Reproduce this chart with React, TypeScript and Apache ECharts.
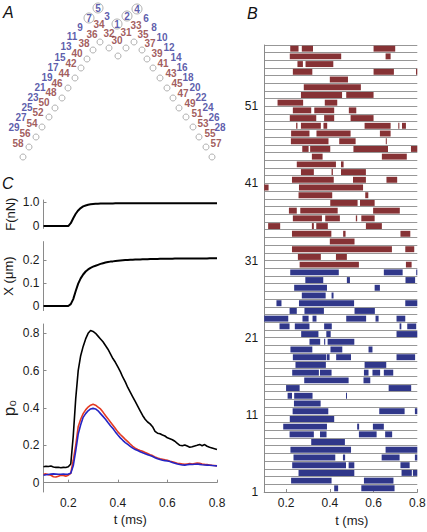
import React, { useEffect, useRef } from "react";
import * as echarts from "echarts";

// ---------- Panel A: schematic of the hair bundle (diagram units) ----------
const BLUE_NUMS: [number, number, number][] = [
  [1, 117, 24], [2, 127, 16], [3, 107, 16], [4, 137, 9], [5, 98, 8], [6, 146, 18], [7, 89, 18],
  [8, 154, 27], [9, 80, 27], [10, 162, 37], [11, 72, 36], [12, 169, 47], [13, 66, 46],
  [14, 176, 57], [15, 60, 57], [16, 182, 67], [17, 53, 67], [18, 188, 77], [19, 47, 77],
  [20, 195, 87], [21, 40, 87], [22, 201, 97], [23, 33, 97], [24, 208, 107], [25, 27, 107],
  [26, 214, 117], [27, 21, 117], [28, 220, 127], [29, 14, 127],
];
const RED_NUMS: [number, number, number][] = [
  [30, 117, 40], [31, 126, 32], [32, 109, 33], [33, 136, 25], [34, 99, 24], [35, 143, 34],
  [36, 92, 34], [37, 150, 43], [38, 84, 43], [39, 157, 53], [40, 77, 53], [41, 163, 63],
  [42, 71, 63], [43, 171, 73], [44, 64, 73], [45, 177, 83], [46, 57, 83], [47, 183, 93],
  [48, 51, 92], [49, 190, 103], [50, 44, 102], [51, 197, 113], [52, 38, 112], [53, 203, 123],
  [54, 32, 123], [55, 210, 133], [56, 25, 133], [57, 216, 143], [58, 18, 143],
];
const GRAY_TIPS: [number, number][] = [
  [100, 42], [109, 48], [118, 56], [126, 48], [134, 42], [93, 50], [87, 59], [81, 68],
  [75, 78], [68, 88], [62, 98], [55, 108], [49, 117], [42, 127], [36, 137], [29, 147],
  [23, 157], [142, 50], [147, 59], [153, 68], [160, 78], [167, 88], [173, 98], [179, 108],
  [186, 117], [193, 127], [199, 137], [206, 147], [212, 157],
];
const CIRCLED = [1, 2, 4, 5, 7];

// ---------- Panel C: time courses ----------
const T = [
  0.10, 0.11, 0.12, 0.13, 0.14, 0.15, 0.16, 0.17, 0.18, 0.19, 0.20,
  0.21, 0.22, 0.23, 0.24, 0.25, 0.26, 0.27, 0.28, 0.29, 0.30,
  0.31, 0.32, 0.33, 0.34, 0.35, 0.36, 0.37, 0.38, 0.39, 0.40,
  0.41, 0.42, 0.43, 0.44, 0.45, 0.46, 0.47, 0.48, 0.49, 0.50,
  0.51, 0.52, 0.53, 0.54, 0.55, 0.56, 0.57, 0.58, 0.59, 0.60,
  0.61, 0.62, 0.63, 0.64, 0.65, 0.66, 0.67, 0.68, 0.69, 0.70,
  0.71, 0.72, 0.73, 0.74, 0.75, 0.76, 0.77, 0.78, 0.79, 0.80,
];
const FORCE = [
  0, 0, 0, 0, 0, 0, 0, 0, 0, 0, 0,
  0.12, 0.33, 0.52, 0.66, 0.76, 0.83, 0.87, 0.9, 0.92, 0.93,
  0.94, 0.945, 0.95, 0.953, 0.955, 0.956, 0.957, 0.957, 0.958, 0.958,
  0.958, 0.959, 0.959, 0.959, 0.959, 0.96, 0.96, 0.96, 0.96, 0.96,
  0.96, 0.96, 0.96, 0.96, 0.96, 0.96, 0.96, 0.96, 0.96, 0.96,
  0.96, 0.96, 0.96, 0.96, 0.96, 0.96, 0.96, 0.96, 0.96, 0.96,
  0.96, 0.96, 0.96, 0.96, 0.96, 0.96, 0.96, 0.96, 0.96, 0.96,
];
const DISP = [
  0, 0, 0, 0, 0, 0, 0, 0, 0, 0, 0,
  0.008, 0.03, 0.065, 0.097, 0.12, 0.137, 0.15, 0.159, 0.166, 0.171,
  0.175, 0.179, 0.183, 0.186, 0.189, 0.191, 0.193, 0.194, 0.196, 0.197,
  0.198, 0.199, 0.2, 0.2, 0.201, 0.201, 0.202, 0.202, 0.202, 0.203,
  0.203, 0.203, 0.204, 0.204, 0.204, 0.204, 0.205, 0.205, 0.205, 0.205,
  0.205, 0.205, 0.206, 0.206, 0.206, 0.206, 0.206, 0.206, 0.206, 0.207,
  0.207, 0.207, 0.207, 0.207, 0.207, 0.207, 0.208, 0.208, 0.208, 0.208,
];
const P_ANY = [
  0.085, 0.088, 0.087, 0.089, 0.084, 0.082, 0.083, 0.08, 0.082, 0.081, 0.085,
  0.1, 0.25, 0.45, 0.6, 0.68, 0.73, 0.77, 0.8, 0.815, 0.81,
  0.8, 0.785, 0.77, 0.755, 0.735, 0.715, 0.69, 0.665, 0.645, 0.62,
  0.595, 0.565, 0.54, 0.51, 0.485, 0.46, 0.435, 0.41, 0.385, 0.36,
  0.34, 0.325, 0.315, 0.3, 0.275, 0.265, 0.262, 0.255, 0.25, 0.24,
  0.235, 0.23, 0.222, 0.21, 0.2, 0.198, 0.202, 0.196, 0.19, 0.192,
  0.196, 0.2, 0.205, 0.198, 0.204, 0.195, 0.19, 0.186, 0.182, 0.178,
];
const P_RED = [
  0.045, 0.047, 0.043, 0.04, 0.032, 0.03, 0.035, 0.04, 0.038, 0.035, 0.04,
  0.05, 0.12, 0.2, 0.3, 0.34, 0.37, 0.39, 0.405, 0.415, 0.42,
  0.415, 0.405, 0.395, 0.378, 0.36, 0.343, 0.325, 0.308, 0.29, 0.272,
  0.258, 0.245, 0.232, 0.22, 0.207, 0.195, 0.185, 0.178, 0.172, 0.168,
  0.162, 0.156, 0.15, 0.145, 0.138, 0.132, 0.128, 0.125, 0.122, 0.12,
  0.115, 0.112, 0.108, 0.104, 0.102, 0.1, 0.098, 0.1, 0.102, 0.1,
  0.103, 0.105, 0.104, 0.1, 0.098, 0.097, 0.095, 0.093, 0.092, 0.09,
];
const P_BLUE = [
  0.04, 0.042, 0.044, 0.046, 0.047, 0.046, 0.045, 0.045, 0.046, 0.045, 0.046,
  0.05, 0.09, 0.17, 0.26, 0.31, 0.35, 0.37, 0.385, 0.395, 0.398,
  0.395, 0.385, 0.37, 0.355, 0.34, 0.322, 0.305, 0.29, 0.272, 0.255,
  0.24, 0.227, 0.215, 0.205, 0.195, 0.185, 0.178, 0.172, 0.166, 0.16,
  0.155, 0.15, 0.145, 0.14, 0.134, 0.128, 0.124, 0.12, 0.118, 0.116,
  0.113, 0.108, 0.104, 0.1, 0.097, 0.095, 0.094, 0.096, 0.098, 0.097,
  0.099, 0.1, 0.098, 0.096, 0.095, 0.094, 0.093, 0.092, 0.091, 0.09,
];

// ---------- Panel B: open intervals [start, end, channel] ----------
const RED_EVENTS: [number, number, number][] = [
  [0.219, 0.257, 58], [0.272, 0.323, 58], [0.6, 0.699, 58],
  [0.217, 0.452, 57], [0.655, 0.678, 57],
  [0.252, 0.277, 56], [0.289, 0.416, 56],
  [0.231, 0.32, 55], [0.6, 0.693, 55], [0.794, 0.8, 55],
  [0.4, 0.483, 54],
  [0.281, 0.542, 53],
  [0.268, 0.456, 52], [0.475, 0.6, 52],
  [0.161, 0.278, 51], [0.377, 0.434, 51],
  [0.231, 0.315, 50], [0.329, 0.42, 50], [0.487, 0.521, 50],
  [0.217, 0.338, 49], [0.374, 0.42, 49], [0.495, 0.6, 49],
  [0.246, 0.252, 48], [0.268, 0.359, 48], [0.371, 0.388, 48], [0.559, 0.678, 48], [0.713, 0.718, 48], [0.73, 0.748, 48],
  [0.223, 0.307, 47], [0.339, 0.495, 47], [0.629, 0.678, 47],
  [0.222, 0.394, 46], [0.443, 0.518, 46], [0.656, 0.66, 46],
  [0.274, 0.303, 45], [0.31, 0.402, 45], [0.508, 0.666, 45], [0.771, 0.8, 45],
  [0.318, 0.367, 44], [0.638, 0.752, 44],
  [0.249, 0.428, 43], [0.451, 0.463, 43],
  [0.268, 0.327, 42], [0.408, 0.414, 42], [0.451, 0.565, 42],
  [0.227, 0.418, 41], [0.506, 0.565, 41], [0.659, 0.708, 41],
  [0.1, 0.12, 40], [0.259, 0.552, 40],
  [0.257, 0.411, 39], [0.562, 0.576, 39],
  [0.402, 0.527, 38], [0.538, 0.605, 38],
  [0.213, 0.249, 37], [0.265, 0.436, 37], [0.598, 0.72, 37],
  [0.231, 0.364, 36], [0.379, 0.446, 36], [0.519, 0.525, 36], [0.544, 0.605, 36],
  [0.118, 0.173, 35], [0.318, 0.327, 35], [0.338, 0.391, 35], [0.565, 0.638, 35],
  [0.227, 0.407, 34], [0.461, 0.472, 34], [0.723, 0.768, 34],
  [0.4, 0.513, 33],
  [0.227, 0.684, 32], [0.745, 0.786, 32],
  [0.254, 0.359, 31], [0.428, 0.478, 31],
  [0.262, 0.533, 30], [0.748, 0.774, 30],
];
const BLUE_EVENTS: [number, number, number][] = [
  [0.219, 0.441, 29], [0.647, 0.733, 29], [0.795, 0.8, 29],
  [0.288, 0.37, 28], [0.478, 0.492, 28], [0.746, 0.79, 28],
  [0.237, 0.387, 27], [0.605, 0.629, 27],
  [0.272, 0.381, 26], [0.408, 0.417, 26],
  [0.156, 0.179, 25], [0.259, 0.511, 25], [0.745, 0.8, 25],
  [0.216, 0.249, 24], [0.284, 0.373, 24], [0.513, 0.606, 24],
  [0.1, 0.21, 23], [0.275, 0.303, 23], [0.321, 0.339, 23], [0.475, 0.566, 23], [0.609, 0.623, 23], [0.705, 0.745, 23],
  [0.17, 0.216, 22], [0.24, 0.307, 22], [0.374, 0.409, 22], [0.719, 0.727, 22], [0.754, 0.795, 22],
  [0.269, 0.348, 21], [0.384, 0.404, 21], [0.705, 0.8, 21],
  [0.307, 0.356, 20], [0.374, 0.379, 20], [0.39, 0.512, 20],
  [0.22, 0.32, 19], [0.403, 0.457, 19], [0.577, 0.595, 19],
  [0.231, 0.384, 18], [0.387, 0.399, 18], [0.429, 0.497, 18], [0.705, 0.79, 18],
  [0.243, 0.382, 17], [0.559, 0.658, 17],
  [0.228, 0.35, 16], [0.355, 0.408, 16], [0.556, 0.577, 16], [0.595, 0.63, 16], [0.647, 0.69, 16],
  [0.283, 0.486, 15], [0.554, 0.585, 15],
  [0.2, 0.262, 14], [0.669, 0.772, 14],
  [0.207, 0.227, 13], [0.237, 0.321, 13], [0.474, 0.478, 13],
  [0.236, 0.358, 12],
  [0.23, 0.393, 11], [0.626, 0.742, 11], [0.789, 0.8, 11],
  [0.217, 0.42, 10],
  [0.187, 0.387, 9], [0.525, 0.534, 9], [0.597, 0.647, 9],
  [0.216, 0.327, 8], [0.355, 0.385, 8], [0.533, 0.614, 8], [0.653, 0.685, 8],
  [0.315, 0.469, 7],
  [0.22, 0.497, 6], [0.655, 0.8, 6],
  [0.234, 0.425, 5], [0.46, 0.47, 5], [0.637, 0.719, 5], [0.789, 0.8, 5],
  [0.228, 0.474, 4], [0.486, 0.512, 4], [0.723, 0.765, 4],
  [0.257, 0.512, 3], [0.728, 0.775, 3], [0.78, 0.8, 3],
  [0.223, 0.408, 2], [0.556, 0.691, 2],
  [0.42, 0.438, 1], [0.544, 0.696, 1],
];
const ROW_TICKS = [1, 11, 21, 31, 41, 51];
const T_TICKS = [0.2, 0.4, 0.6, 0.8];

const FONT = "Liberation Sans, Arial, sans-serif";
const AXIS_GRAY = "#8a8a8a";
const TXT = "#1a1a1a";
const BAR_BLUE = "#30378a";
const BAR_RED = "#863235";

function fmt1(v: number) {
  return Math.abs(v) < 1e-9 ? "0" : v.toFixed(1);
}

export default function App() {
  const ref = useRef<HTMLDivElement>(null);
  useEffect(() => {
    if (!ref.current) return;
    const chart = echarts.init(ref.current, null, { renderer: "svg" });

    const hiddenX = (g: number) => ({ gridIndex: g, type: "value", min: 0.1, max: 0.8, show: false });
    const tAxis = (g: number, nameShift: number) => ({
      gridIndex: g,
      type: "value",
      min: 0.1,
      max: 0.8,
      axisLine: { show: true, lineStyle: { color: AXIS_GRAY, width: 1 } },
      axisTick: { show: true, inside: true, length: 3, customValues: T_TICKS, lineStyle: { color: AXIS_GRAY } },
      axisLabel: { customValues: T_TICKS, formatter: fmt1, color: TXT, fontSize: 12, fontFamily: FONT, margin: 5 },
      splitLine: { show: false },
      name: "t (ms)",
      nameLocation: "middle",
      nameGap: 21,
      nameTextStyle: { color: TXT, fontSize: 13, fontFamily: FONT, padding: [0, 0, 0, nameShift] },
    });
    const valAxis = (g: number, min: number, max: number, ticks: number[], name: any, gap: number, nameSize: number) => ({
      gridIndex: g,
      type: "value",
      min,
      max,
      axisLine: { show: true, lineStyle: { color: AXIS_GRAY, width: 1 } },
      axisTick: { show: true, inside: true, length: 3, customValues: ticks, lineStyle: { color: AXIS_GRAY } },
      axisLabel: { customValues: ticks, formatter: fmt1, color: TXT, fontSize: 12, fontFamily: FONT, margin: 4 },
      splitLine: { show: false },
      name,
      nameLocation: "middle",
      nameRotate: 90,
      nameGap: gap,
      nameTextStyle: { color: TXT, fontSize: nameSize, fontFamily: FONT },
    });

    const numSeries = (nums: [number, number, number][], color: string) => ({
      type: "scatter",
      xAxisIndex: 0,
      yAxisIndex: 0,
      symbolSize: 0,
      silent: true,
      data: nums.map((n) => ({ value: [n[1], n[2]], name: String(n[0]) })),
      label: {
        show: true,
        position: "inside",
        formatter: "{b}",
        color,
        fontSize: 10,
        fontWeight: "bold",
        fontFamily: FONT,
      },
      labelLayout: { hideOverlap: false },
      z: 5,
    });

    const barSeries = (events: [number, number, number][], color: string) => ({
      type: "custom",
      xAxisIndex: 4,
      yAxisIndex: 4,
      data: events,
      encode: { x: [0, 1], y: 2 },
      clip: true,
      silent: true,
      renderItem: (params: any, api: any) => {
        const s = api.value(0);
        const e = api.value(1);
        const r = api.value(2);
        const a = api.coord([s, r + 0.86]);
        const b = api.coord([e, r + 0.09]);
        return {
          type: "rect",
          shape: { x: a[0], y: a[1], width: Math.max(b[0] - a[0], 1), height: b[1] - a[1] },
          style: { fill: color },
        };
      },
    });

    const lineSeries = (xi: number, vals: number[], color: string, width: number, z: number) => ({
      type: "line",
      xAxisIndex: xi,
      yAxisIndex: xi,
      data: T.map((t, i) => [t, vals[i]]),
      showSymbol: false,
      silent: true,
      lineStyle: { color, width },
      z,
    });

    const circledPts = BLUE_NUMS.filter((n) => CIRCLED.includes(n[0])).map((n) => [n[1], n[2]]);

    chart.setOption({
      animation: false,
      backgroundColor: "#fff",
      grid: [
        { left: 0, top: 0, width: 240, height: 170, outerBoundsMode: "none" },
        { left: 43.5, top: 200, width: 173.5, height: 28.4, outerBoundsMode: "none" },
        { left: 43.5, top: 241.6, width: 173.5, height: 69, outerBoundsMode: "none" },
        { left: 43.5, top: 324, width: 173.5, height: 168, outerBoundsMode: "none" },
        { left: 264.2, top: 45, width: 153.1, height: 447, outerBoundsMode: "none" },
      ],
      xAxis: [
        { gridIndex: 0, type: "value", min: 0, max: 240, show: false },
        hiddenX(1),
        hiddenX(2),
        tAxis(3, 0),
        tAxis(4, 22),
      ],
      yAxis: [
        { gridIndex: 0, type: "value", min: 0, max: 170, inverse: true, show: false },
        valAxis(1, -0.1, 1.1, [0, 1], "F(nN)", 27, 13),
        valAxis(2, -0.02, 0.28, [0, 0.1, 0.2], "X (μm)", 29, 13),
        valAxis(3, -0.05, 0.85, [0, 0.2, 0.4, 0.6, 0.8], "p₀", 26, 17),
        {
          gridIndex: 4,
          type: "value",
          min: 1,
          max: 58.95,
          interval: 1,
          axisLine: { show: true, lineStyle: { color: AXIS_GRAY, width: 1 } },
          axisTick: { show: false },
          axisLabel: {
            customValues: ROW_TICKS,
            color: TXT,
            fontSize: 12,
            fontFamily: FONT,
            margin: 6,
          },
          splitLine: { show: true, lineStyle: { color: "#979797", width: 1 } },
        },
      ],
      graphic: [
        { type: "text", left: 3, top: 4, style: { text: "A", font: "italic 16px " + FONT, fill: "#111" } },
        { type: "text", left: 247, top: 5, style: { text: "B", font: "italic 16px " + FONT, fill: "#111" } },
        { type: "text", left: 2, top: 175, style: { text: "C", font: "italic 16px " + FONT, fill: "#111" } },
      ],
      series: [
        {
          type: "scatter",
          xAxisIndex: 0,
          yAxisIndex: 0,
          data: GRAY_TIPS,
          symbol: "circle",
          symbolSize: 6,
          silent: true,
          itemStyle: { color: "rgba(0,0,0,0)", borderColor: "#9c9c9c", borderWidth: 1 },
        },
        {
          type: "scatter",
          xAxisIndex: 0,
          yAxisIndex: 0,
          data: circledPts,
          symbol: "circle",
          symbolSize: 10,
          silent: true,
          itemStyle: { color: "rgba(0,0,0,0)", borderColor: "#9c9c9c", borderWidth: 1 },
        },
        numSeries(BLUE_NUMS, "#333396"),
        numSeries(RED_NUMS, "#893333"),
        lineSeries(1, FORCE, "#000", 2, 3),
        lineSeries(2, DISP, "#000", 2, 3),
        lineSeries(3, P_ANY, "#000", 1.6, 3),
        lineSeries(3, P_RED, "#e43a22", 1.6, 4),
        lineSeries(3, P_BLUE, "#2424c4", 1.6, 5),
        barSeries(BLUE_EVENTS, BAR_BLUE),
        barSeries(RED_EVENTS, BAR_RED),
      ],
    });
    return () => chart.dispose();
  }, []);
  return (
    <div
      ref={ref}
      style={{ position: "absolute", left: 0, top: 0, width: 427, height: 532 }}
    />
  );
}
